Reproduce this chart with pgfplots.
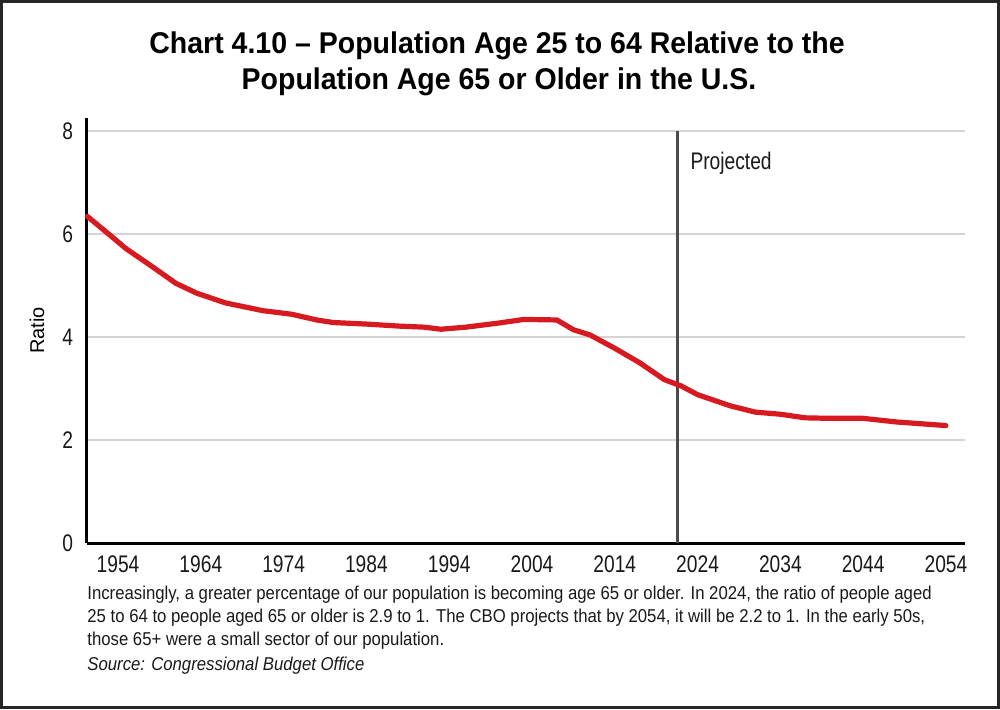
\documentclass[border=0pt]{standalone}
\usepackage{pgfplots}
\pgfplotsset{compat=1.18}
\usepackage{fontspec}
\setmainfont{Liberation Sans}
\newfontfamily\tickfont{Liberation Sans}[FakeStretch=0.80]
\newfontfamily\titlefont{Liberation Sans}[FakeStretch=0.95]
\newfontfamily\capfont{Liberation Sans}[FakeStretch=0.90]

\definecolor{linered}{RGB}{215,25,32}
\definecolor{gridgray}{RGB}{212,212,212}
\definecolor{projgray}{RGB}{75,75,75}
\definecolor{txt}{RGB}{25,25,25}

\begin{document}
\begin{tikzpicture}
% frame of the whole picture (1px = 0.5pt)
\useasboundingbox (-43.5pt,-83pt) rectangle (456.5pt,271.5pt);
\draw[line width=1.5pt, black!85] (-42.75pt,-82.25pt) rectangle (455.75pt,270.75pt);

\begin{axis}[
  at={(0,0)}, anchor=south west,
  scale only axis,
  width=439pt, height=212.5pt,
  xmin=1950.25, xmax=2056.3,
  ymin=0, ymax=8.25,
  axis lines=left,
  axis line style={-, line width=1.5pt, black},
  xtick={1954,1964,...,2054},
  ytick={0,2,4,6,8},
  major tick length=0pt,
  ymajorgrids,
  grid style={line width=1pt, gridgray},
  tick label style={font=\tickfont\fontsize{12}{14}\selectfont, text=txt},
  xticklabel style={yshift=-3pt},
  yticklabel style={xshift=-3.5pt},
  /pgf/number format/1000 sep={},
  /pgf/number format/assume math mode=true,
  ylabel={Ratio},
  ylabel style={font=\tickfont\fontsize{12.5}{14}\selectfont, text=txt},
  every axis y label/.style={at={(axis description cs:0,0.5)}, xshift=-25pt, rotate=90, anchor=center},
  clip=false,
]
\addplot[projgray, line width=1.3pt] coordinates {(2021.6,0) (2021.6,8)};
\addplot[linered, line width=2.6pt, line join=round, line cap=round] coordinates {
  (1950.3,6.34) (1953,5.98) (1955,5.71) (1958,5.38) (1961,5.04)
  (1963.5,4.85) (1967,4.66) (1971.5,4.51) (1975,4.44) (1978,4.33)
  (1980,4.28) (1984,4.25) (1988,4.21) (1991,4.19) (1993,4.15)
  (1996,4.19) (2000,4.27) (2003,4.34) (2007,4.33) (2009,4.14)
  (2011,4.04) (2014,3.78) (2017,3.50) (2020,3.17) (2022,3.05)
  (2024,2.88) (2028,2.66) (2031,2.54) (2034,2.50) (2037,2.43)
  (2040,2.42) (2044,2.42) (2048,2.35) (2054,2.28)
};
\node[anchor=base west, inner sep=0pt, font=\tickfont\fontsize{12}{14}\selectfont, text=txt]
  at (axis cs:2023.1,7.26) {Projected};
\end{axis}

% title
\node[anchor=base, font=\titlefont\bfseries\fontsize{15}{16.5}\selectfont, text=black]
  at (205pt,245pt) {Chart 4.10 – Population Age 25 to 64 Relative to the};
\node[anchor=base, font=\titlefont\bfseries\fontsize{15}{16.5}\selectfont, text=black]
  at (206pt,227pt) {Population Age 65 or Older in the U.S.};

% caption
\begin{scope}[every node/.style={anchor=base west, inner sep=0pt, text=txt,
    font=\capfont\fontsize{9.3}{11}\selectfont}]
\node at (0pt,-28pt) {Increasingly, a greater percentage of our population is becoming age 65 or older. In 2024, the ratio of people aged};
\node at (0pt,-39.5pt) {25 to 64 to people aged 65 or older is 2.9 to 1. The CBO projects that by 2054, it will be 2.2 to 1. In the early 50s,};
\node at (0pt,-51pt) {those 65+ were a small sector of our population.};
\node at (0pt,-63.5pt) {\itshape Source: Congressional Budget Office};
\end{scope}
\end{tikzpicture}
\end{document}
